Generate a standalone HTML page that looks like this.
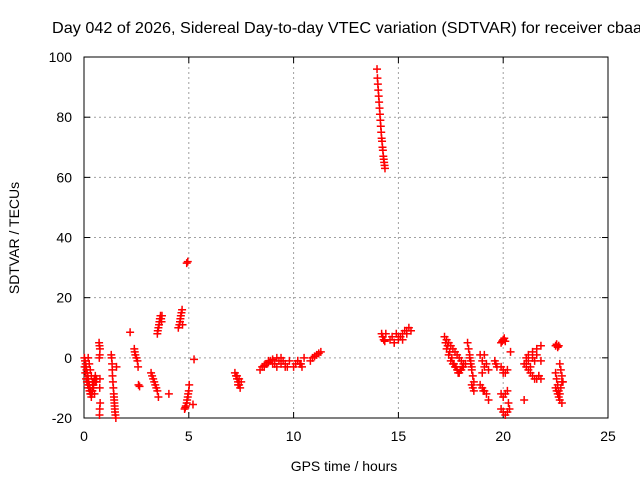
<!DOCTYPE html>
<html><head><meta charset="utf-8"><style>
body{margin:0;background:#fff}
svg{display:block;font-family:"Liberation Sans",sans-serif}
</style></head><body>
<svg id="chart" width="640" height="480">
<rect width="640" height="480" fill="#fff"/>
<text x="52" y="33" font-size="16" textLength="590" lengthAdjust="spacingAndGlyphs">Day 042 of 2026, Sidereal Day-to-day VTEC variation (SDTVAR) for receiver cbaa</text>
<g id="grid"></g><g id="axes"></g><g id="marks"></g>
<text x="344" y="471" font-size="14" text-anchor="middle">GPS time / hours</text>
<text transform="translate(19,238) rotate(-90)" font-size="14" text-anchor="middle">SDTVAR / TECUs</text>
</svg>
<script>
const xTicks=[0,5,10,15,20,25];
const yTicks=[-20,0,20,40,60,80,100];
const hours=[
0.02,0.05,0.08,0.1,0.12,0.15,0.18,0.2,0.22,0.25,0.28,0.3,0.32,0.35,0.38,0.4,0.42,0.45,0.48,0.5,0.03,0.06,0.1,0.14,0.18,0.22,0.26,0.3,0.34,0.38,0.42,0.46,0.5,0.54,0.58,0.2,0.25,0.3,0.35,0.4,0.45,0.5,0.55,0.6,
0.72,0.74,0.76,0.75,0.73,0.76,0.75,0.77,0.75,0.74,
1.3,1.32,1.34,1.35,1.36,1.38,1.4,1.42,1.43,1.44,1.45,1.46,1.47,1.48,1.5,1.52,1.55,
2.2,2.4,2.42,2.45,2.5,2.55,2.58,2.6,2.65,
3.2,3.25,3.3,3.35,3.4,3.45,3.5,3.55,3.5,3.52,3.55,3.58,3.6,3.62,3.65,3.68,3.7,3.72,
4.05,4.5,4.55,4.58,4.6,4.62,4.65,4.68,4.7,
4.8,4.83,4.86,4.9,4.92,4.95,4.97,5.0,5.02,4.9,4.95,5.25,5.2,
7.2,7.25,7.3,7.35,7.4,7.45,7.5,7.3,7.35,7.4,
8.4,8.5,8.6,8.7,8.8,8.9,9.0,9.1,9.2,9.3,9.4,9.5,9.6,9.7,9.8,8.6,8.8,9.0,9.2,9.4,9.6,
10.0,10.1,10.2,10.3,10.4,10.5,10.2,10.35,10.8,10.9,11.0,11.1,11.2,11.3,
13.98,14.0,14.02,14.04,14.06,14.08,14.1,14.12,14.14,14.16,14.18,14.2,14.22,14.24,14.26,14.28,14.3,14.32,14.34,14.36,
14.2,14.25,14.3,14.35,14.4,14.6,14.7,14.8,14.9,15.0,15.1,15.2,15.3,15.4,15.5,15.6,14.8,15.0,15.2,15.4,
17.2,17.3,17.4,17.5,17.6,17.7,17.8,17.9,18.0,18.1,17.3,17.4,17.5,17.6,17.7,17.8,17.9,18.0,18.1,18.2,17.25,17.35,17.45,17.55,17.65,17.75,17.85,17.95,18.05,
18.3,18.35,18.4,18.45,18.5,18.55,18.6,18.5,18.55,18.6,18.4,18.45,18.5,18.9,19.0,19.1,19.0,19.05,19.2,19.3,19.1,19.2,19.3,18.9,19.0,19.1,19.6,19.65,19.7,
19.9,19.95,20.0,20.05,20.1,19.9,20.0,20.1,20.2,19.9,20.0,20.1,20.2,19.9,20.0,20.1,20.2,20.3,20.35,20.0,20.25,
21.0,21.1,21.2,21.3,21.4,21.5,21.6,21.7,21.8,21.2,21.4,21.6,21.8,21.2,21.4,21.6,21.8,21.1,21.3,21.5,21.7,21.0,21.1,
22.5,22.55,22.6,22.65,22.7,22.75,22.8,22.85,22.5,22.55,22.6,22.65,22.7,22.75,22.8,22.5,22.55,22.6,22.65,22.7,22.8
];
const values=[
0,-1,-2,-3,-4,-5,-6,-7,-8,-9,-10,-11,-12,-13,-12,-11,-10,-9,-8,-7,-3,-5,-7,-8,-9,-10,-11,-12,-12,-11,-9,-8,-7,-6,-8,0,-2,-4,-6,-8,-10,-12,-8,-7,
5,4,3,1,0,-7,-10,-15,-17,-19,
1,0,-2,-4,-6,-8,-10,-12,-13,-14,-15,-16,-17,-18,-19,-20,-3,
8.5,3,2,1,0,-1,-3,-9,-9.5,
-5,-6,-7,-8,-9,-10,-11,-13,8,9,10,11,12,13,14,13,12,14,
-12,10,11,12,13,14,15,16,11,
-17,-16.5,-16,-15,-14,-13,-12,-11,-9,31.5,32,-0.5,-15.5,
-5,-6,-7,-8,-9,-10,-8,-6,-9,-7,
-4,-3,-2.5,-2,-1.5,-1,-0.5,-2,-3,-1,0,-1,-2,-3,-1,-3,-1,-2,0,-2,-3,
-3,-2,-1,-2,-3,0,-1,-2,-1,0,0.5,1,1.5,2,
96,93,91,89,87,85,83,81,79,77,75,73,72,70,69,67,66,65,64,63,
8,7,6,5.5,8,6,7,5,8,6,7,8,9,8,10,9,5,7,6,9,
7,6,5,4,3,2,1,0,-1,-2,3,1,-1,-2,-3,-4,-5,-4,-3,-2,5,4,2,0,-2,-3,-5,-4,-3,
5,3,1,-2,-4,-6,-8,-9,-10,-11,0,-1,-3,1,-1,-3,-5,-11,-12,-14,1,-2,-4,-9,-10,-11,-1,-2,-3,
5,5.5,6,6.5,5.5,-3,-4,-5,-4,-12,-13,-12,-11,-17,-18,-19,-18,-17,2,-5,-15,
-2,-3,-4,-5,-6,-7,-7,-6,-7,1,2,3,4,-1,0,1,-1,-2,-3,-1,-6,-14,0,
4,4.5,3.5,4,-2,-4,-6,-8,-5,-7,-9,-11,-12,-10,-8,-10,-11,-12,-13,-14,-15
];
const X=h=>84+h*20.96, Y=v=>418-(v+20)*3.008;
const NS='http://www.w3.org/2000/svg';
const g=document.getElementById('grid'),a=document.getElementById('axes'),m=document.getElementById('marks');
function el(t,at,p){const e=document.createElementNS(NS,t);for(const k in at)e.setAttribute(k,at[k]);p.appendChild(e);return e;}
xTicks.forEach(t=>{const x=X(t);
 if(t>0&&t<25){const l=el('line',{x1:x,x2:x,y1:57,y2:418,stroke:'#a0a0a0','stroke-dasharray':'2,3'},g);
 
 }
 el('line',{x1:x,x2:x,y1:418,y2:412,stroke:'#000'},a);el('line',{x1:x,x2:x,y1:57,y2:63,stroke:'#000'},a);
 const tx=el('text',{x:x,y:441,'font-size':14,'text-anchor':'middle'},a);tx.textContent=t;
 
 });
yTicks.forEach(t=>{const y=Y(t);
 if(t>-20&&t<100){const l=el('line',{x1:84,x2:608,y1:y,y2:y,stroke:'#a0a0a0','stroke-dasharray':'2,3'},g);
 
 }
 el('line',{x1:84,x2:90,y1:y,y2:y,stroke:'#000'},a);el('line',{x1:608,x2:602,y1:y,y2:y,stroke:'#000'},a);
 const tx=el('text',{x:72,y:y+5,'font-size':14,'text-anchor':'end'},a);tx.textContent=t;
 
 });
const fr=el('rect',{x:84,y:57,width:524,height:361,fill:'none',stroke:'#000'},a);


hours.forEach((h,i)=>{const x=X(h),y=Y(values[i]);
 const p=el('path',{d:`M${x-4},${y}H${x+4}M${x},${y-4}V${y+4}`,stroke:'#f00','stroke-width':1.5},m);
 
 });
</script>
</body></html>
